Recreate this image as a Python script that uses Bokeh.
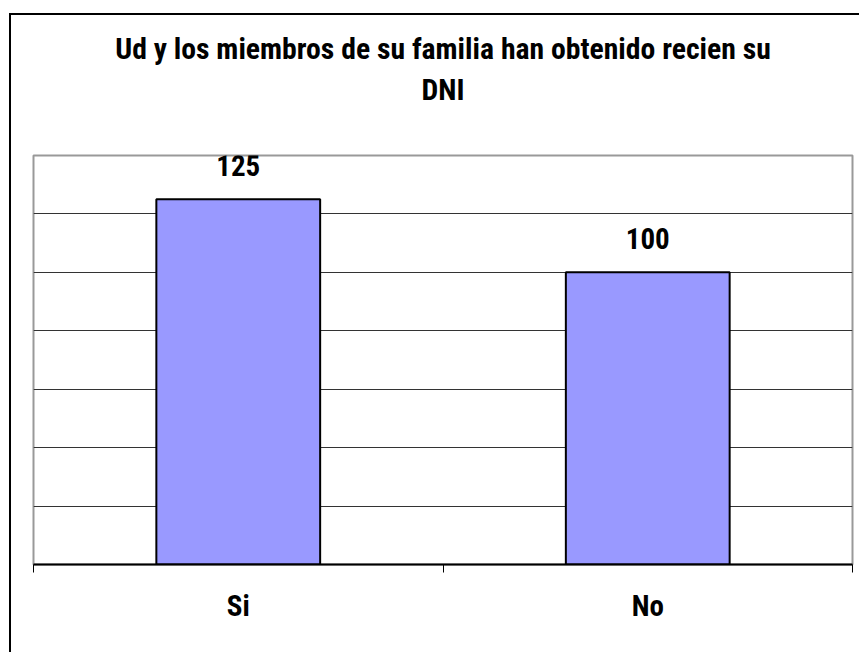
from bokeh.plotting import figure
from bokeh.models import (ColumnDataSource, LabelSet, Title, FixedTicker,
                          Range1d, InlineStyleSheet)
from bokeh.core.properties import value
from bokeh.embed import file_html
from bokeh.resources import INLINE

# data
categories = ["Si", "No"]
counts = [125, 100]
title_lines = ["Ud y los miembros de su familia han obtenido recien su", "DNI"]
y_ticks = [0, 20, 40, 60, 80, 100, 120, 140]

FONT = "'Liberation Sans Narrow', 'Roboto Condensed', 'Liberation Sans', Arial, sans-serif"
FS = "29px"
TITLE_FS = "29.7px"

xs = [i + 0.5 for i in range(len(categories))]
src = ColumnDataSource(dict(x=xs, top=counts, lab=[str(c) for c in counts]))

W, H = 859, 652
p = figure(width=W, height=H, output_backend="svg", toolbar_location=None,
           title=None,
           x_range=Range1d(0, len(categories)), y_range=Range1d(0, 140),
           min_border_left=33, min_border_right=7, min_border_top=155,
           min_border_bottom=88)
p.background_fill_color = "white"
p.border_fill_color = "white"
p.outline_line_color = "#999999"
p.outline_line_width = 2

p.vbar(x="x", top="top", width=0.4, bottom=0, source=src,
       fill_color="#9999FF", line_color="black", line_width=2)

p.add_layout(LabelSet(x="x", y="top", text="lab", source=src,
                      text_align="center", text_baseline="alphabetic",
                      y_offset=23, text_font=value(FONT),
                      text_font_style="bold", text_font_size=FS,
                      text_color="black"))

# axes
p.yaxis.visible = False
p.ygrid.ticker = FixedTicker(ticks=y_ticks)
p.ygrid.grid_line_color = "#333333"
p.ygrid.grid_line_width = 1
p.xgrid.visible = False

ax = p.xaxis[0]
ax.ticker = FixedTicker(ticks=xs, minor_ticks=list(range(len(categories) + 1)))
ax.major_label_overrides = {x: c for x, c in zip(xs, categories)}
ax.major_tick_line_color = None
ax.major_tick_out = 0
ax.major_tick_in = 0
ax.minor_tick_line_color = "black"
ax.minor_tick_line_width = 1
ax.minor_tick_out = 8
ax.minor_tick_in = 0
ax.axis_line_color = "black"
ax.axis_line_width = 2
ax.major_label_standoff = 16
ax.major_label_text_font = FONT
ax.major_label_text_font_style = "bold"
ax.major_label_text_font_size = FS
ax.major_label_text_color = "black"

# title: two centred lines (inner line added first, outer line after)
for txt, so in zip(reversed(title_lines), [98, -91]):
    p.add_layout(Title(text=txt, align="center", standoff=so,
                       text_font=FONT, text_font_style="bold",
                       text_font_size=TITLE_FS, text_color="black"), "above")

# outer chart border (left and top edges visible in the reference)
p.stylesheets = [InlineStyleSheet(css="""
:host { position: relative; }
:host::after {
  content: '';
  position: absolute;
  left: 9px; top: 13px; right: 0; bottom: 0;
  border-left: 2px solid black;
  border-top: 2px solid black;
  pointer-events: none;
}
""")]

open("out.html", "w").write(file_html(p, INLINE))
